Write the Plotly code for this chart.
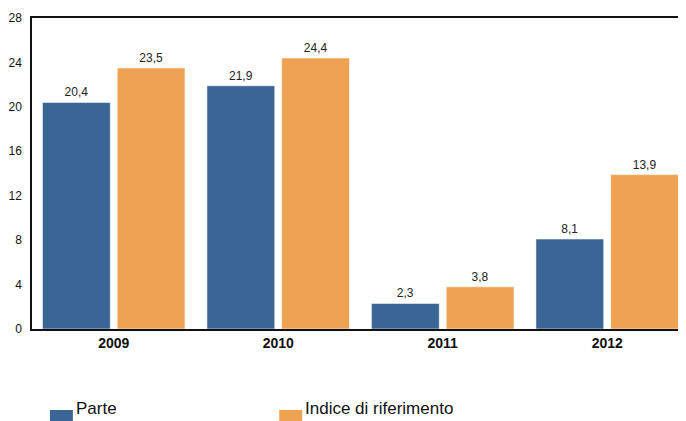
import plotly.graph_objects as go

years = ["2009", "2010", "2011", "2012"]
series_names = ["Parte", "Indice di riferimento"]
parte = [20.4, 21.9, 2.3, 8.1]
indice = [23.5, 24.4, 3.8, 13.9]
colors = ["#3A6595", "#EFA352"]
y_ticks = [0, 4, 8, 12, 16, 20, 24, 28]

FONT = "Liberation Sans, Arial, sans-serif"

def fmt(v):
    return f"{v:.1f}".replace(".", ",")

fig = go.Figure()
for name, vals, col in zip(series_names, [parte, indice], colors):
    fig.add_trace(go.Bar(
        x=years, y=vals, name=name,
        marker=dict(color=col, line=dict(color="rgba(255,255,255,0.55)", width=1)),
        text=[fmt(v) for v in vals], textposition="outside",
        textfont=dict(family=FONT, size=12, color="#222"),
        cliponaxis=False, showlegend=False,
    ))

# manual legend (positions in window pixels mapped to plot-area paper coords)
PL, PR, PT, PB = 30, 686, 18, 329
def px(x):
    return (x - PL) / (PR - PL)
def py(y):
    return (PB - y) / (PB - PT)

legend_x = [48, 278]
for name, col, lx in zip(series_names, colors, legend_x):
    fig.add_shape(type="rect", xref="paper", yref="paper",
                  x0=px(lx), x1=px(lx + 23),
                  y0=py(421), y1=py(410),
                  fillcolor=col, line=dict(width=0))
    fig.add_annotation(xref="paper", yref="paper",
                       x=px(lx + 24), y=py(420), height=20,
                       text=name, showarrow=False, xanchor="left", yanchor="bottom",
                       font=dict(family=FONT, size=17, color="#111"))

fig.update_layout(
    width=678, height=413,
    margin=dict(l=22, r=0, t=10, b=92),
    paper_bgcolor="white", plot_bgcolor="white",
    barmode="group", bargap=0.091, bargroupgap=0.093,
    font=dict(family=FONT, color="#111"),
)
fig.update_xaxes(range=[-0.497, 3.479],
                 showline=True, linecolor="#111", linewidth=1.5, mirror=True,
                 showgrid=False, ticks="",
                 tickfont=dict(family=FONT, size=14, color="#111", weight="bold"))
fig.update_yaxes(range=[0, 28], tickvals=y_ticks, ticktext=[str(t) for t in y_ticks],
                 showline=True, linecolor="#111", linewidth=1.5, showgrid=False,
                 zeroline=False, ticks="", ticklabelstandoff=6,
                 tickfont=dict(family=FONT, size=12, color="#111"))

fig.write_html("out.html")
